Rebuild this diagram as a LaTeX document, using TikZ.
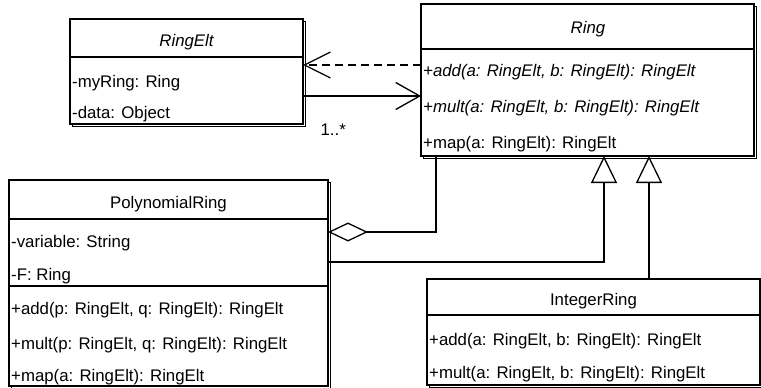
\documentclass[tikz,border=0pt]{standalone}
\usepackage{fontspec}
\setmainfont{Liberation Sans}
\usetikzlibrary{arrows.meta,positioning}
\tikzset{
  classbox/.style={draw,line width=2pt,fill=white,rectangle,inner sep=0pt,outer sep=0pt,anchor=north west,
    preaction={draw,line width=1pt,transform canvas={shift={(2.5pt,-2.5pt)}}}},
  sepline/.style={line width=1.6pt},
  classname/.style={font=\fontsize{16.8pt}{20pt}\selectfont,inner sep=0pt,anchor=base},
  member/.style={font=\fontsize{16.8pt}{20pt}\selectfont,inner sep=0pt,anchor=base west},
  multlabel/.style={font=\fontsize{16.8pt}{20pt}\selectfont,inner sep=0pt},
  depend/.style={-{Straight Barb[length=26pt,width=26pt]},line width=1.3pt,dash pattern=on 8pt off 5pt},
  assoc/.style={-{Straight Barb[length=24pt,width=27pt]},line width=1.3pt},
  aggr/.style={-{Diamond[open,length=40pt,width=19pt]},line width=1.3pt},
  inherit/.style={-{Triangle[open,length=27pt,width=26pt]},line width=1.3pt}
}
\begin{document}
\begin{tikzpicture}[x=1pt,y=-1pt]
  \useasboundingbox (0,0) rectangle (761,388);
  % class boxes
  \node[classbox,minimum width=233pt,minimum height=105pt] (ringelt) at (70,19) {};
  \node[classbox,minimum width=333pt,minimum height=152pt] (ring) at (421,4) {};
  \node[classbox,minimum width=319pt,minimum height=206pt] (polyring) at (9,180) {};
  \node[classbox,minimum width=333pt,minimum height=106pt] (intring) at (427,279) {};
  % compartments
  \draw[sepline] ([yshift=-38pt]ringelt.north west) -- ([yshift=-38pt]ringelt.north east);
  \draw[sepline] ([yshift=-45pt]ring.north west) -- ([yshift=-45pt]ring.north east);
  \draw[sepline] ([yshift=-39pt]polyring.north west) -- ([yshift=-39pt]polyring.north east);
  \draw[sepline] ([yshift=-106pt]polyring.north west) -- ([yshift=-106pt]polyring.north east);
  \draw[sepline] ([yshift=-36pt]intring.north west) -- ([yshift=-36pt]intring.north east);
  % RingElt
  \node[classname] (ringelt-name) at (186.5,46.7) {\itshape RingElt};
  \node[member] (ringelt-myring) at (72,87) {-myRing: Ring};
  \node[member] (ringelt-data) at (72,118) {-data: Object};
  % Ring
  \node[classname] (ring-name) at (588,33) {\itshape Ring};
  \node[member] (ring-add) at (423,76) {\itshape +add(a: RingElt, b: RingElt): RingElt};
  \node[member] (ring-mult) at (423,112.5) {\itshape +mult(a: RingElt, b: RingElt): RingElt};
  \node[member] (ring-map) at (423,148) {+map(a: RingElt): RingElt};
  % PolynomialRing
  \node[classname] (polyring-name) at (168.5,208) {PolynomialRing};
  \node[member] (polyring-var) at (11,247) {-variable: String};
  \node[member] (polyring-f) at (11,280) {-F: Ring};
  \node[member] (polyring-add) at (11,314) {+add(p: RingElt, q: RingElt): RingElt};
  \node[member] (polyring-mult) at (11,349) {+mult(p: RingElt, q: RingElt): RingElt};
  \node[member] (polyring-map) at (11,381) {+map(a: RingElt): RingElt};
  % IntegerRing
  \node[classname] (intring-name) at (593.5,305) {IntegerRing};
  \node[member] (intring-add) at (429,345) {+add(a: RingElt, b: RingElt): RingElt};
  \node[member] (intring-mult) at (429,378) {+mult(a: RingElt, b: RingElt): RingElt};
  % relations
  \draw[depend] ([yshift=15pt]ring.west) -- ([yshift=15pt]ring.west -| ringelt.east);
  \coordinate (assocstart) at ([yshift=-16pt]ring.west -| ringelt.east);
  \draw[assoc] (assocstart) -- ([yshift=-16pt]ring.west)
    node[multlabel,at start,below right=27pt and 17pt] (assoc-mult) {1..*};
  \draw[aggr] ([xshift=15pt]ring.south west) |- ([yshift=51pt]polyring.east);
  \draw[inherit] ([yshift=21pt]polyring.east) -| ([xshift=183pt]ring.south west);
  \coordinate (intup) at ([xshift=55.5pt]intring.north);
  \draw[inherit] (intup) -- (intup |- ring.south);
\end{tikzpicture}
\end{document}
